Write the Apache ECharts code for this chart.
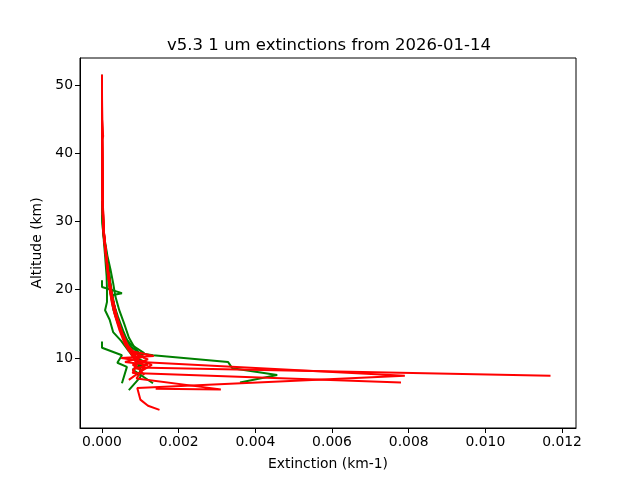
<!DOCTYPE html>
<html>
<head>
<meta charset="utf-8">
<script src="https://cdn.jsdelivr.net/npm/echarts@6/dist/echarts.min.js"></script>
<style>html,body{margin:0;padding:0;background:#fff}#c{width:640px;height:480px}</style>
</head>
<body>
<div id="c"></div>
<script>
// Tick labels
const xTicks = [0, 0.002, 0.004, 0.006, 0.008, 0.010, 0.012];
const yTicks = [10, 20, 30, 40, 50];

// Profiles: [extinction (km-1), altitude (km)]
const green1 = [[0,33],[0.00001,30],[0.00004,28],[0.0001,26],[0.00015,24],[0.00019,22],[0.00024,20],[0.0003,18],[0.0004,16],[0.00052,14],[0.00062,12.5],[0.00075,11.5],[0.00073,10.9],[0.00133,10.4],[0.00329,9.4],[0.0034,8.5],[0.00457,7.5],[0.0036,6.4]];
const green2 = [[0,12.4],[0,11.5],[0.00052,10.4],[0.0004,9.3],[0.00065,8.7],[0.00052,6.3]];
const green3 = [[0,21.4],[0,20.4],[0.00052,19.5],[0.00026,19.2],[0.0003,18],[0.00042,16],[0.00055,14],[0.0007,12],[0.0008,11],[0.0009,10],[0.001,9],[0.0008,8.3],[0.00133,6.3]];
const green4 = [[0.00002,30],[0.00005,27],[0.00008,25],[0.00012,22],[0.00013,20],[0.00013,18.2],[0.00008,17],[0.0002,15.6],[0.00029,13.8],[0.0005,12.5],[0.0007,11],[0.0009,9.5],[0.001,8.5],[0.001,7.2],[0.0007,5.3]];
const green5 = [[0,32],[0.00003,29],[0.00008,27],[0.00014,25],[0.00022,23],[0.00029,21],[0.00035,19],[0.00045,17],[0.00058,15],[0.0007,13],[0.00085,11.5],[0.001,10.5],[0.0009,9.5],[0.0011,8.5],[0.0009,7.5]];
const green6 = [[0,31],[0.00002,29],[0.00006,27],[0.00012,25],[0.00018,23],[0.00022,21],[0.00028,19],[0.00033,17.5],[0.00038,16],[0.0005,14.5],[0.0006,13],[0.00075,12],[0.0011,10.7],[0.0009,10],[0.0012,9.2],[0.0009,8.4]];
const green7 = [[0,51.5],[0,45],[0.00001,38],[0.00002,32],[0.00005,28],[0.0001,25],[0.00016,22],[0.00022,19.5],[0.0003,17],[0.00042,15],[0.00058,13],[0.00072,11.8],[0.00095,10.8],[0.0011,10]];

const red1 = [[0,51.5],[0,45],[0.00001,40],[0.00001,35],[0.00002,31],[0.00005,28],[0.00009,26],[0.00013,24],[0.00017,22],[0.0002,20],[0.00026,18],[0.00035,16],[0.00046,14],[0.0006,12],[0.00072,11],[0.00082,10],[0.0009,9.2],[0.0009,8.6],[0.0117,7.4]];
const red2 = [[0,51.5],[0,45],[0.00003,42.5],[0,42],[0.00001,36],[0.00002,31],[0.00004,28],[0.00008,26],[0.00012,24],[0.00016,22],[0.00021,20],[0.00028,18],[0.00038,16],[0.00049,14],[0.00062,12],[0.00075,11],[0.00088,10.2],[0.001,9.4],[0.0079,7.4],[0.00092,5.6],[0.001,3.9],[0.0012,3.0],[0.0015,2.4]];
const red3 = [[0,51],[0,44],[0.00001,37],[0.00002,32],[0.00004,29],[0.00008,26.5],[0.00013,24],[0.00018,21.5],[0.00024,19],[0.00033,16.5],[0.00045,14.5],[0.00058,12.5],[0.00085,10.5],[0.0009,9.5],[0.00085,8.5],[0.0008,7.8],[0.0078,6.4]];
const red4 = [[0,50],[0,43],[0.00001,36],[0.00002,31],[0.00005,28],[0.0001,25],[0.00015,22.5],[0.0002,20.5],[0.00027,18.5],[0.00037,16],[0.0005,13.8],[0.00065,11.8],[0.0009,9.8],[0.0011,8.8],[0.0009,7.0],[0.0031,5.4],[0.0014,5.5]];
const red5 = [[0,49],[0.00001,40],[0.00002,33],[0.00004,29],[0.00009,26],[0.00014,23.5],[0.0002,21],[0.00027,18.8],[0.00036,16.5],[0.00048,14.2],[0.00062,12.2],[0.0007,11],[0.0011,10.2],[0.0006,9.4],[0.0012,9],[0.0008,8.3],[0.0009,7.6],[0.0007,6.8]];
const red6 = [[0,48],[0.00001,39],[0.00002,33],[0.00005,28.5],[0.0001,25.5],[0.00015,23],[0.00021,20.8],[0.00028,18.6],[0.00038,16.2],[0.0005,14],[0.00065,12],[0.0008,11],[0.00135,10.3],[0.0005,10],[0.0011,9.5],[0.0013,9.0],[0.001,8.0]];
const red7 = [[0,47],[0.00001,38],[0.00002,32.5],[0.00005,28.5],[0.0001,25.5],[0.00016,22.8],[0.00022,20.5],[0.00029,18.3],[0.00039,16],[0.00052,13.8],[0.0007,11.5],[0.0009,10.5],[0.0012,9.8],[0.0008,9],[0.001,8.2],[0.0011,7.5]];

const greens = [green1, green2, green3, green4, green5, green6, green7];
const reds = [red1, red2, red3, red4, red5, red6, red7];

const chart = echarts.init(document.getElementById('c'), null, {renderer: 'canvas'});
const font = 'DejaVu Sans';
const mk = (d, color) => ({
  type: 'line', data: d, showSymbol: false, symbol: 'none', silent: true,
  lineStyle: {color: color, width: 2}, z: color === '#ff0000' ? 3 : 2
});
const series = [];
greens.forEach(g => series.push(mk(g, '#008000')));
reds.forEach(r => series.push(mk(r, '#ff0000')));

chart.setOption({
  animation: false,
  backgroundColor: '#fff',
  title: {
    text: 'v5.3 1 um extinctions from 2026-01-14',
    left: 324, top: 32, textAlign: 'center',
    textStyle: {fontFamily: font, fontSize: 16.5, fontWeight: 'normal', color: '#000'}
  },
  grid: {left: 80, right: 64, top: 58, bottom: 52, show: true, borderColor: '#000', borderWidth: 1, backgroundColor: 'transparent'},
  xAxis: {
    type: 'value', min: -0.000574, max: 0.012365,
    name: 'Extinction (km-1)', nameLocation: 'middle', nameGap: 29,
    nameTextStyle: {fontFamily: font, fontSize: 13.9, color: '#000'},
    axisLine: {show: true, onZero: false, lineStyle: {color: '#000', width: 1}},
    axisTick: {show: true, inside: false, length: 5, customValues: xTicks, lineStyle: {color: '#000'}},
    axisLabel: {customValues: xTicks, formatter: v => v.toFixed(3), fontFamily: font, fontSize: 13.9, color: '#000', margin: 7},
    splitLine: {show: false}
  },
  yAxis: {
    type: 'value', min: -0.26, max: 53.96,
    name: 'Altitude (km)', nameLocation: 'middle', nameGap: 31,
    nameTextStyle: {fontFamily: font, fontSize: 13.9, color: '#000'},
    axisLine: {show: true, onZero: false, lineStyle: {color: '#000', width: 1}},
    axisTick: {show: true, inside: false, length: 5, customValues: yTicks, lineStyle: {color: '#000'}},
    axisLabel: {customValues: yTicks, formatter: v => String(v), fontFamily: font, fontSize: 13.9, color: '#000', margin: 7},
    splitLine: {show: false}
  },
  series: series
});
</script>
</body>
</html>
